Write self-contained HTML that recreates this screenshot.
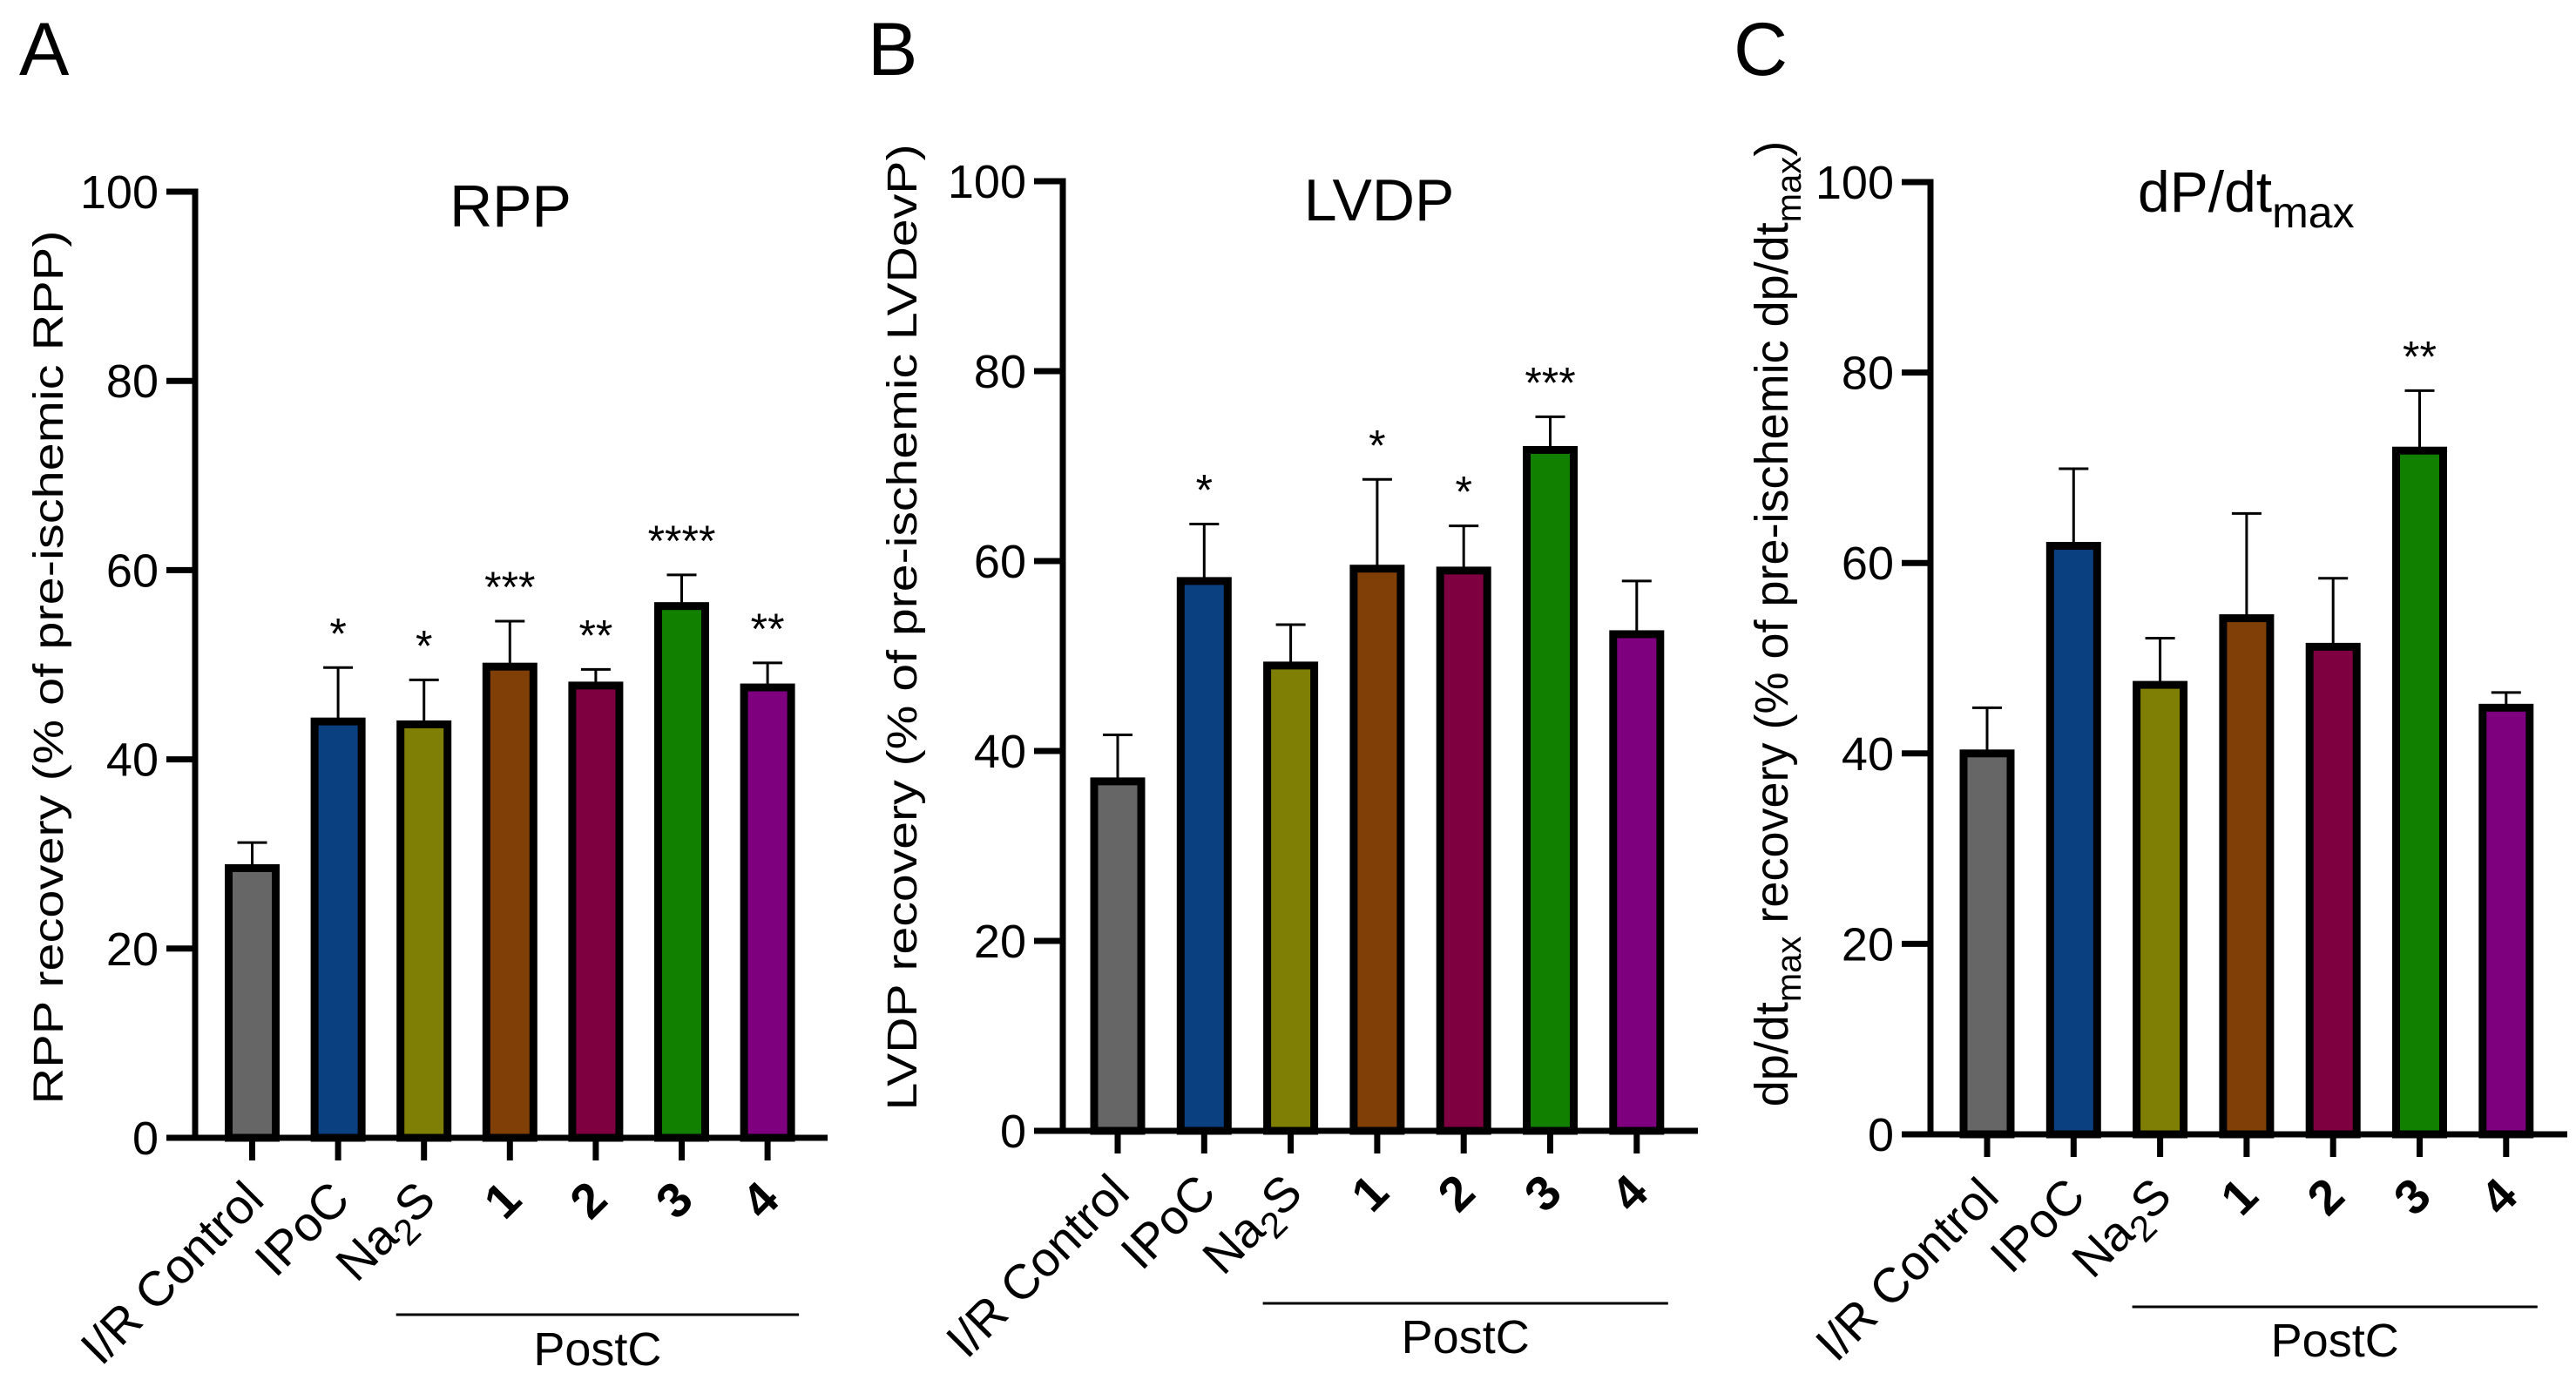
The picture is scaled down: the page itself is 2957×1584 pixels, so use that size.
<!DOCTYPE html>
<html><head><meta charset="utf-8"><style>
html,body{margin:0;padding:0;background:#fff;}
svg{display:block;font-family:"Liberation Sans",Arial,sans-serif;}
</style></head><body>
<svg id="fig" width="2957" height="1584" viewBox="0 0 2957 1584" xmlns="http://www.w3.org/2000/svg">
<text x="22" y="86" font-size="86">A</text>
<text x="996" y="86" font-size="86">B</text>
<text x="1990" y="86" font-size="86">C</text>
<text x="586" y="260" font-size="68" text-anchor="middle">RPP</text>
<text x="1583" y="253" font-size="68" text-anchor="middle">LVDP</text>
<text x="2454" y="243" font-size="66">dP/dt<tspan font-size="50" dy="18">max</tspan></text>
<text transform="translate(72,766) rotate(-90)" font-size="48" text-anchor="middle" textLength="1003" lengthAdjust="spacingAndGlyphs">RPP recovery (% of pre-ischemic RPP)</text>
<text transform="translate(1052,720) rotate(-90)" font-size="48" text-anchor="middle" textLength="1109" lengthAdjust="spacingAndGlyphs">LVDP recovery (% of pre-ischemic LVDevP)</text>
<text transform="translate(2052,716) rotate(-90)" font-size="54" text-anchor="middle">dp/dt<tspan font-size="40" dy="15">max</tspan><tspan dy="-15"> recovery (% of pre-ischemic dp/dt</tspan><tspan font-size="40" dy="15">max</tspan><tspan dy="-15">)</tspan></text>
</svg>
<script>
const categories = ["I/R Control","IPoC","Na2S","1","2","3","4"];
const colors = ["#666666","#0a3f80","#7f7f05","#7f3f07","#7f0040","#117f00","#7f007f"];
const yTicks = [0,20,40,60,80,100];
const rppValues = [28.5,44,43.7,49.8,47.8,56.2,47.6];
const rppErrors = [31.2,49.7,48.4,54.6,49.5,59.5,50.2];
const rppStars = ["","*","*","***","**","****","**"];
const lvdpValues = [36.8,57.9,49,59.2,59,71.7,52.3];
const lvdpErrors = [41.7,63.9,53.3,68.6,63.7,75.2,57.9];
const lvdpStars = ["","*","","*","*","***",""];
const dpdtValues = [40,61.8,47.2,54.2,51.2,71.8,44.8];
const dpdtErrors = [44.8,69.9,52.1,65.2,58.4,78.1,46.4];
const dpdtStars = ["","","","","","**",""];

const NS = "http://www.w3.org/2000/svg";
const svg = document.getElementById('fig');
function mk(tag, attrs, parent){
  const e = document.createElementNS(NS, tag);
  for (const k in attrs) e.setAttribute(k, attrs[k]);
  (parent||svg).appendChild(e);
  return e;
}
const panels = [
  {id:"rpp", ax:224, y0:1306, y100:220, xEnd:950, x0:289.5, step:98.6, values:rppValues, errors:rppErrors, stars:rppStars, postY:1509, postTextY:1567},
  {id:"lvdp", ax:1220, y0:1298, y100:208, xEnd:1949, x0:1283, step:99.3, values:lvdpValues, errors:lvdpErrors, stars:lvdpStars, postY:1496, postTextY:1553},
  {id:"dpdt", ax:2216, y0:1302, y100:209, xEnd:2947, x0:2281, step:99.3, values:dpdtValues, errors:dpdtErrors, stars:dpdtStars, postY:1500, postTextY:1557}
];
panels.forEach(p => {
  const yScale = v => p.y0 - (p.y0 - p.y100) * v / 100;
  const xScale = i => p.x0 + p.step * i;
  const g = mk('g', {});
  
  
  p.values.forEach((v, i) => {
    const cx = xScale(i), yv = yScale(v), ye = yScale(p.errors[i]);
    const err = mk('line', {x1:cx, x2:cx, y1:yv, y2:ye, stroke:'#000', 'stroke-width':3}, g);
    
    
    const cap = mk('line', {x1:cx-17, x2:cx+17, y1:ye, y2:ye, stroke:'#000', 'stroke-width':3}, g);
    
    
    const r = mk('rect', {x:cx-27, y:yv, width:54, height:p.y0-yv, fill:colors[i], stroke:'#000', 'stroke-width':9}, g);
    
    
    if (p.stars[i]) {
      const s = mk('text', {x:cx, y:ye-22, 'font-size':50, 'text-anchor':'middle'}, g);
      s.textContent = p.stars[i];
      
      
    }
    const t = mk('line', {x1:cx, x2:cx, y1:p.y0, y2:p.y0+26, stroke:'#000', 'stroke-width':7}, g);
    
    
    const isNum = /^[0-9]$/.test(categories[i]);
    const lbl = mk('text', {transform:'translate(' + (cx+16) + ',' + (p.y0+74) + ') rotate(-45)', 'font-size':56, 'text-anchor':'end', 'font-weight': isNum ? 'bold' : 'normal'}, g);
    if (categories[i] === 'Na2S') {
      lbl.appendChild(document.createTextNode('Na'));
      const sub = mk('tspan', {'font-size':42, dy:13}, lbl);
      sub.textContent = '2';
      const s2 = mk('tspan', {dy:-13}, lbl);
      s2.textContent = 'S';
    } else {
      lbl.textContent = categories[i];
    }
    
    
  });
  const ya = mk('line', {x1:p.ax, x2:p.ax, y1:p.y100-3.5, y2:p.y0+3.5, stroke:'#000', 'stroke-width':7}, g);
  
  
  const xa = mk('line', {x1:p.ax-33, x2:p.xEnd, y1:p.y0, y2:p.y0, stroke:'#000', 'stroke-width':7}, g);
  
  
  yTicks.forEach(tv => {
    const y = yScale(tv);
    const tk = mk('line', {x1:p.ax-33, x2:p.ax, y1:y, y2:y, stroke:'#000', 'stroke-width':7}, g);
    
    
    const tl = mk('text', {x:p.ax-42, y:y+19, 'font-size':54, 'text-anchor':'end'}, g);
    tl.textContent = tv;
    
    
  });
  const lx1 = xScale(2) - 32, lx2 = xScale(6) + 36;
  const pl = mk('line', {x1:lx1, x2:lx2, y1:p.postY, y2:p.postY, stroke:'#000', 'stroke-width':3}, g);
  
  
  const pt = mk('text', {x:(lx1+lx2)/2, y:p.postTextY, 'font-size':54, 'text-anchor':'middle'}, g);
  pt.textContent = 'PostC';
  
  
});
</script>
</body></html>
